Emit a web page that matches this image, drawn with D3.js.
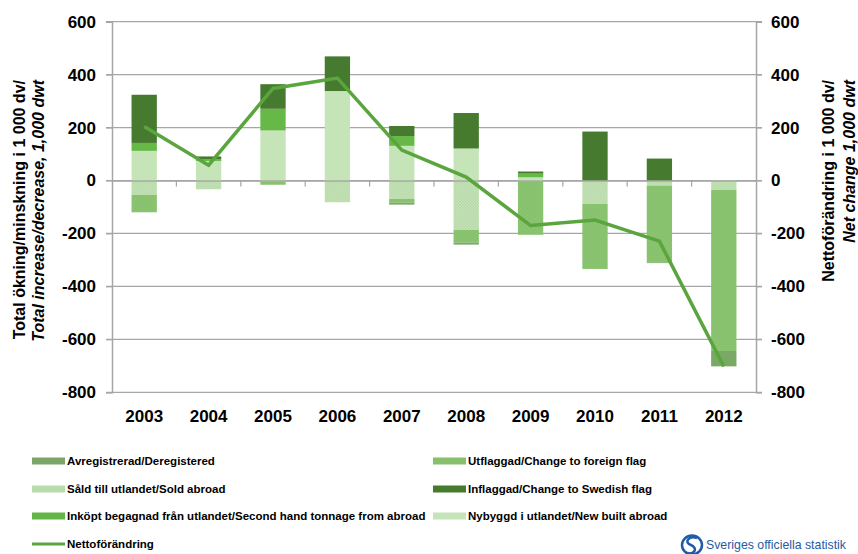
<!DOCTYPE html>
<html>
<head>
<meta charset="utf-8">
<script src="https://cdn.jsdelivr.net/npm/d3@7"></script>
<style>
  body { margin: 0; background: #fff; }
  svg { display: block; font-family: "Liberation Sans", Arial, sans-serif; }
</style>
</head>
<body>
<svg id="chart" width="858" height="554"></svg>
<script>
var years = ["2003", "2004", "2005", "2006", "2007", "2008", "2009", "2010", "2011", "2012"];
var newBuilt = [112, 74, 189, 338, 131, 121, 12, 0, 0, 0];
var secondHand = [30, 7, 82, 0, 37, 0, 14, 0, 0, 0];
var flaggedIn = [182, 10, 93, 131, 38, 134, 8, 185, 83, 0];
var soldAbroad = [-54, -33, -3, -82, -69, -186, -2, -88, -19, -35];
var flaggedOut = [-66, 0, -13, 0, -15, -48, -203, -246, -290, -609];
var deregistered = [0, 0, 0, 0, -7, -8, 0, 0, -3, -58];
var netChange = [204, 58, 348, 387, 115, 13, -170, -149, -229, -702];
var yTicks = [-800, -600, -400, -200, 0, 200, 400, 600];

(function () {
    var svg = d3.select("#chart");
    var left = 112, right = 756, top = 21.7, bottom = 392.3;
    var grey = "#a6a6a6";

    var defs = svg.append("defs");
    var dots = defs.append("pattern").attr("id", "dots")
        .attr("width", 3).attr("height", 3).attr("patternUnits", "userSpaceOnUse");
    dots.append("rect").attr("width", 3).attr("height", 3).attr("fill", "#c8e4bc");
    dots.append("rect").attr("width", 1.5).attr("height", 1.5).attr("fill", "#b4d8a4");
    dots.append("rect").attr("x", 1.5).attr("y", 1.5).attr("width", 1.5).attr("height", 1.5).attr("fill", "#b4d8a4");
    var diag = defs.append("pattern").attr("id", "diag")
        .attr("width", 4).attr("height", 4).attr("patternUnits", "userSpaceOnUse");
    diag.append("rect").attr("width", 4).attr("height", 4).attr("fill", "#8ac471");
    diag.append("path").attr("d", "M0,4L4,0").attr("stroke", "#84bf6b").attr("stroke-width", 1);

    var series = [
        {key: "new", name: "Nybyggd i utlandet/New built abroad", values: newBuilt, fill: "#c5e4b8", swatch: "#c5e4b8"},
        {key: "sold", name: "Såld till utlandet/Sold abroad", values: soldAbroad, fill: "url(#dots)", swatch: "#b9dcab"},
        {key: "second", name: "Inköpt begagnad från utlandet/Second hand tonnage from abroad", values: secondHand, fill: "#66b847", swatch: "#62b646"},
        {key: "out", name: "Utflaggad/Change to foreign flag", values: flaggedOut, fill: "url(#diag)", swatch: "#86c06d"},
        {key: "in", name: "Inflaggad/Change to Swedish flag", values: flaggedIn, fill: "#467a2e", swatch: "#467a2e"},
        {key: "dereg", name: "Avregistrerad/Deregistered", values: deregistered, fill: "#7aa865", swatch: "#7ca668"}
    ];

    var table = years.map(function (y, i) {
        var row = {year: y};
        series.forEach(function (s) { row[s.key] = s.values[i]; });
        return row;
    });

    var x = d3.scaleBand().domain(years).range([left, right])
        .paddingInner(0.607).paddingOuter(0.3035);
    var y = d3.scaleLinear().domain([-800, 600]).range([bottom, top]);

    // grid
    svg.append("g").selectAll("line").data(yTicks).enter().append("line")
        .attr("x1", left - 6).attr("x2", right + 6)
        .attr("y1", function (d) { return y(d); }).attr("y2", function (d) { return y(d); })
        .attr("stroke", grey).attr("stroke-width", 1.2);

    var stack = d3.stack().keys(series.map(function (s) { return s.key; }))
        .offset(d3.stackOffsetDiverging);
    var stacked = stack(table);

    svg.append("g").selectAll("g").data(stacked).enter().append("g")
        .attr("fill", function (d, i) { return series[i].fill; })
        .selectAll("rect").data(function (d) { return d; }).enter().append("rect")
        .attr("x", function (d) { return x(d.data.year); })
        .attr("width", x.bandwidth())
        .attr("y", function (d) { return y(Math.max(d[0], d[1])); })
        .attr("height", function (d) { return Math.abs(y(d[0]) - y(d[1])); });

    // x axis at zero
    var xa = svg.append("g").attr("transform", "translate(0," + y(0) + ")")
        .call(d3.axisBottom(x).tickSize(0).tickFormat(""));
    xa.select(".domain").attr("stroke", grey).attr("stroke-width", 1.2);
    xa.selectAll("line.bnd").data(years.slice(1)).enter().append("line").attr("class", "bnd")
        .attr("x1", function (d) { return x(d) - x.step() * x.paddingInner() / 2; })
        .attr("x2", function (d) { return x(d) - x.step() * x.paddingInner() / 2; })
        .attr("y1", 0).attr("y2", 6).attr("stroke", grey).attr("stroke-width", 1.2);

    // y axes
    var fmt = function (d) { return String(d); };
    var ya = svg.append("g").attr("transform", "translate(" + left + ",0)")
        .call(d3.axisLeft(y).tickValues(yTicks).tickFormat(fmt).tickSize(6).tickPadding(10));
    var yb = svg.append("g").attr("transform", "translate(" + right + ",0)")
        .call(d3.axisRight(y).tickValues(yTicks).tickFormat(fmt).tickSize(6).tickPadding(9));
    [ya, yb].forEach(function (a) {
        a.select(".domain").attr("stroke", grey).attr("stroke-width", 1.5);
        a.selectAll(".tick line").attr("stroke", grey);
        a.selectAll("text").attr("font-size", 17).attr("font-weight", "bold")
            .attr("font-family", "Liberation Sans, Arial, sans-serif").attr("fill", "#000");
    });

    // year labels
    svg.append("g").selectAll("text").data(years).enter().append("text")
        .attr("x", function (d) { return x(d) + x.bandwidth() / 2; })
        .attr("y", 422).attr("text-anchor", "middle")
        .attr("font-size", 17).attr("font-weight", "bold")
        .text(function (d) { return d; });

    // net line
    var line = d3.line()
        .x(function (d, i) { return x(years[i]) + x.bandwidth() / 2; })
        .y(function (d) { return y(d); });
    svg.append("path").datum(netChange).attr("d", line)
        .attr("fill", "none").attr("stroke", "#5aa53d").attr("stroke-width", 3.5);

    // axis titles
    function vtitle(cx, cy, txt, italic) {
        svg.append("text").attr("transform", "translate(" + cx + "," + cy + ") rotate(-90)")
            .attr("text-anchor", "end").attr("font-size", 16).attr("font-weight", "bold")
            .attr("font-style", italic ? "italic" : "normal").text(txt);
    }
    vtitle(25, 80, "Total ökning/minskning i 1 000 dv/", false);
    vtitle(44, 80, "Total increase/decrease, 1,000 dwt", true);
    vtitle(834, 80, "Nettoförändring  i 1 000 dv/", false);
    vtitle(855, 80, "Net change 1,000 dwt", true);

    // legend
    var legendItems = [
        {s: series[5], col: 0, row: 0},
        {s: series[1], col: 0, row: 1},
        {s: series[2], col: 0, row: 2},
        {s: series[3], col: 1, row: 0},
        {s: series[4], col: 1, row: 1},
        {s: series[0], col: 1, row: 2}
    ];
    var rowY = [461, 489, 516, 544], colX = [32, 433];
    var lg = svg.append("g");
    legendItems.forEach(function (it) {
        lg.append("rect").attr("x", colX[it.col]).attr("y", rowY[it.row] - 3.5)
            .attr("width", 33).attr("height", 7).attr("fill", it.s.swatch);
        lg.append("text").attr("x", colX[it.col] + 35).attr("y", rowY[it.row] + 4)
            .attr("font-size", 11.5).attr("font-weight", "bold").text(it.s.name);
    });
    lg.append("line").attr("x1", 32).attr("x2", 65).attr("y1", rowY[3]).attr("y2", rowY[3])
        .attr("stroke", "#5aa53d").attr("stroke-width", 3);
    lg.append("text").attr("x", 67).attr("y", rowY[3] + 4)
        .attr("font-size", 11.5).attr("font-weight", "bold").text("Nettoförändring");

    // logo
    var logo = svg.append("g").attr("fill", "none").attr("stroke", "#1f5ba6");
    logo.append("ellipse").attr("cx", 692).attr("cy", 545).attr("rx", 10).attr("ry", 9.5).attr("stroke-width", 2.5);
    logo.append("path").attr("d", "M697,538 C688,535 684,543 691,545 C698,548 695,555 686,553").attr("stroke-width", 2.5);
    svg.append("text").attr("x", 706).attr("y", 549).attr("font-size", 13)
        .attr("fill", "#1f5ba6").attr("textLength", 140).attr("lengthAdjust", "spacingAndGlyphs")
        .text("Sveriges officiella statistik");
})();
</script>
</body>
</html>
